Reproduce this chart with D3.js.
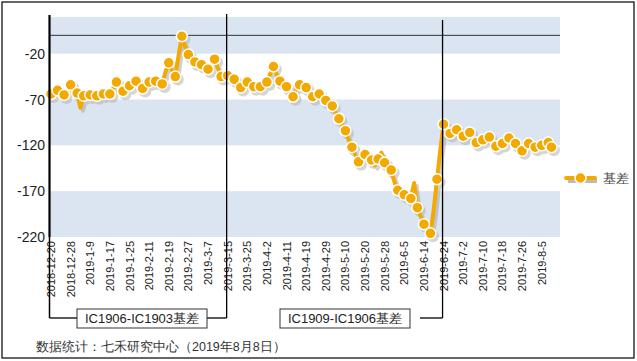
<!DOCTYPE html>
<html>
<head>
<meta charset="utf-8">
<script src="https://cdn.jsdelivr.net/npm/d3@7"></script>
<style>
  body { margin: 0; background: #fff; }
  svg { display: block; font-family: "Liberation Sans", Arial, sans-serif; }
</style>
</head>
<body>
<div id="chart"></div>
<script>
// 1. DATA
// trading days per month (categories)
const tradingDays = [
  ["2018-12", [20, 21, 24, 25, 26, 27, 28]],
  ["2019-1", [2, 3, 4, 7, 8, 9, 10, 11, 14, 15, 16, 17, 18, 21, 22, 23, 24, 25, 28, 29, 30, 31]],
  ["2019-2", [1, 11, 12, 13, 14, 15, 18, 19, 20, 21, 22, 25, 26, 27, 28]],
  ["2019-3", [1, 4, 5, 6, 7, 8, 11, 12, 13, 14, 15, 18, 19, 20, 21, 22, 25, 26, 27, 28, 29]],
  ["2019-4", [1, 2, 3, 4, 8, 9, 10, 11, 12, 15, 16, 17, 18, 19, 22, 23, 24, 25, 26, 29, 30]],
  ["2019-5", [6, 7, 8, 9, 10, 13, 14, 15, 16, 17, 20, 21, 22, 23, 24, 27, 28, 29, 30, 31]],
  ["2019-6", [3, 4, 5, 6, 10, 11, 12, 13, 14, 17, 18, 19, 20, 21, 24, 25, 26, 27, 28]],
  ["2019-7", [1, 2, 3, 4, 5, 8, 9, 10, 11, 12, 15, 16, 17, 18, 19, 22, 23, 24, 25, 26, 29, 30, 31]],
  ["2019-8", [1, 2, 5, 6, 7, 8]]
]
const dates = tradingDays.flatMap(([m, days]) => days.map(d => `${m}-${d}`))

const basis = [
  -64, -62, -60, -62, -65, -60, -54, -62, -63, -79,
  -66, -65, -65, -64, -66, -64, -64, -63, -64, -58,
  -51, -57, -61, -57, -55, -52, -50, -55, -58, -54,
  -51, -51, -50, -51, -53, -40, -30, -38, -45, -22,
  -1, -12, -21, -26, -29, -31, -32, -35, -37, -32,
  -26, -36, -45, -42, -44, -48, -48, -53, -57, -54,
  -51, -54, -56, -58, -56, -50, -51, -42, -34, -43,
  -50, -54, -56, -62, -67, -58, -54, -56, -57, -62,
  -67, -64, -64, -68, -71, -74, -77, -84, -91, -97,
  -104, -114, -122, -130, -138, -133, -130, -128, -136, -142,
  -135, -128, -139, -143, -147, -160, -169, -172, -174, -176,
  -178, -161, -188, -197, -206, -212, -216, -190, -157, -125,
  -97, -104, -107, -105, -103, -108, -110, -108, -106, -112,
  -117, -115, -114, -112, -111, -117, -121, -119, -118, -114,
  -112, -116, -118, -122, -126, -121, -118, -120, -122, -120,
  -120, -118, -117, -122
]

const tickLabels = [
  "2018-12-20", "2018-12-28", "2019-1-9", "2019-1-17", "2019-1-25", "2019-2-11",
  "2019-2-19", "2019-2-27", "2019-3-7", "2019-3-15", "2019-3-25", "2019-4-2",
  "2019-4-11", "2019-4-19", "2019-4-29", "2019-5-10", "2019-5-20", "2019-5-28",
  "2019-6-5", "2019-6-14", "2019-6-24", "2019-7-2", "2019-7-10", "2019-7-18",
  "2019-7-26", "2019-8-5"
]
const yTicks = [-20, -70, -120, -170, -220]
const bandRanges = [[20, -20], [-70, -120], [-170, -220]]

// contract roll periods: [start date, end date, label]
const periods = [
  ["2018-12-20", "2019-3-15", "IC1906-IC1903基差"],
  ["2019-3-15", "2019-6-24", "IC1909-IC1906基差"]
]
const seriesName = "基差"
const source = "数据统计：七禾研究中心（2019年8月8日）"

const dataset = dates.map((d, i) => ({ date: d, i, value: basis[i] }))

// 2. DIMENSIONS
const dimensions = {
  width: 637,
  height: 361,
  plotLeft: 50,
  plotRight: 560,
  plotTop: 17,
  plotBottom: 237,
}

const orange = "#F2A900"

// 3. DRAW CANVAS
const wrapper = d3.select("#chart")
  .append("svg")
  .attr("width", dimensions.width)
  .attr("height", dimensions.height)

wrapper.append("rect")
  .attr("x", 2).attr("y", 2)
  .attr("width", 632).attr("height", 356)
  .attr("fill", "#fff")
  .attr("stroke", "#000")
  .attr("stroke-width", 1.2)

// 4. CREATE SCALES
const xScale = d3.scaleLinear()
  .domain([0, dates.length - 1])
  .range([51, 551.5])
const xOf = d => xScale(dates.indexOf(d))

const yScale = d3.scaleLinear()
  .domain([-220, 20])
  .range([dimensions.plotBottom, dimensions.plotTop])

// bands
wrapper.append("g").selectAll("rect")
  .data(bandRanges)
  .join("rect")
  .attr("x", dimensions.plotLeft)
  .attr("width", dimensions.plotRight - dimensions.plotLeft)
  .attr("y", d => yScale(d[0]))
  .attr("height", d => yScale(d[1]) - yScale(d[0]))
  .attr("fill", "#DAE5F1")

// zero line
wrapper.append("line")
  .attr("x1", dimensions.plotLeft).attr("x2", dimensions.plotRight)
  .attr("y1", yScale(0)).attr("y2", yScale(0))
  .attr("stroke", "#333").attr("stroke-width", 1)

// 5. DRAW DATA
const lineGen = d3.line()
  .x(d => xScale(d.i))
  .y(d => yScale(d.value))

const markerData = dataset.filter(d => d.i % 2 === 0 || d.i === dataset.length - 1)

const shadow = wrapper.append("g")
  .attr("transform", "translate(2.5,3)")
  .attr("opacity", 0.55)
shadow.append("path")
  .datum(dataset)
  .attr("d", lineGen)
  .attr("fill", "none")
  .attr("stroke", "#a9a9a9")
  .attr("stroke-width", 4)
  .attr("stroke-linejoin", "round")
shadow.selectAll("circle")
  .data(markerData)
  .join("circle")
  .attr("cx", d => xScale(d.i))
  .attr("cy", d => yScale(d.value))
  .attr("r", 6)
  .attr("fill", "#b5b5b5")

wrapper.append("path")
  .datum(dataset)
  .attr("d", lineGen)
  .attr("fill", "none")
  .attr("stroke", orange)
  .attr("stroke-width", 4)
  .attr("stroke-linejoin", "round")

wrapper.append("g").selectAll("circle")
  .data(markerData)
  .join("circle")
  .attr("cx", d => xScale(d.i))
  .attr("cy", d => yScale(d.value))
  .attr("r", 5.5)
  .attr("fill", orange)
  .attr("stroke", "#fff")
  .attr("stroke-width", 1.5)

// 6. DRAW PERIPHERALS
// y axis labels
wrapper.append("g").selectAll("text")
  .data(yTicks)
  .join("text")
  .attr("x", 45)
  .attr("y", d => yScale(d))
  .attr("dy", "0.36em")
  .attr("text-anchor", "end")
  .attr("font-size", 14)
  .attr("fill", "#222")
  .text(d => d)

// x labels
wrapper.append("g").selectAll("text")
  .data(tickLabels)
  .join("text")
  .attr("transform", d => `translate(${xOf(d) + 4},${241}) rotate(-90)`)
  .attr("text-anchor", "end")
  .attr("font-size", 11)
  .attr("fill", "#222")
  .text(d => d)

// period brackets
const bracketY = 318
const bracket = wrapper.append("g")
periods.forEach(([start, end, label], k) => {
  const x0 = k === 0 ? dimensions.plotLeft - 0.5 : xOf(start)
  const x1 = xOf(end) - 1
  const top = k === 0 ? 15 : 20
  const boxW = 130
  const boxX = k === 0 ? 77 : 280
  if (k > 0) {
    bracket.append("line")
      .attr("x1", x1).attr("x2", x1).attr("y1", top).attr("y2", bracketY)
      .attr("stroke", "#000").attr("stroke-width", 1.3)
  }
  bracket.append("line")
    .attr("x1", x1).attr("x2", boxX + boxW + (k === 0 ? 0 : 10))
    .attr("y1", bracketY).attr("y2", bracketY)
    .attr("stroke", "#000").attr("stroke-width", 1.3)
  if (k === 0) {
    bracket.append("line")
      .attr("x1", x0).attr("x2", x0).attr("y1", dimensions.plotBottom).attr("y2", bracketY)
      .attr("stroke", "#000").attr("stroke-width", 1.5)
    bracket.append("line")
      .attr("x1", x0).attr("x2", boxX)
      .attr("y1", bracketY).attr("y2", bracketY)
      .attr("stroke", "#000").attr("stroke-width", 1.3)
    bracket.append("line")
      .attr("x1", x1).attr("x2", x1).attr("y1", top - 1).attr("y2", bracketY)
      .attr("stroke", "#000").attr("stroke-width", 1.3)
  }
  bracket.append("rect")
    .attr("x", boxX).attr("y", 309)
    .attr("width", boxW).attr("height", 19)
    .attr("fill", "#fff").attr("stroke", "#333").attr("stroke-width", 1)
  bracket.append("text")
    .attr("x", boxX + boxW / 2).attr("y", 323)
    .attr("text-anchor", "middle")
    .attr("font-size", 13)
    .attr("fill", "#222")
    .text(label)
})

// y axis line
wrapper.append("line")
  .attr("x1", dimensions.plotLeft - 0.5).attr("x2", dimensions.plotLeft - 0.5)
  .attr("y1", 15).attr("y2", dimensions.plotBottom)
  .attr("stroke", "#000").attr("stroke-width", 2.2)

// legend
const legend = wrapper.append("g").attr("transform", "translate(566,178)")
legend.append("line")
  .attr("x1", 2).attr("x2", 31).attr("y1", 3).attr("y2", 3)
  .attr("stroke", "#bbb").attr("stroke-width", 4)
legend.append("line")
  .attr("x1", 0).attr("x2", 29).attr("y1", 0).attr("y2", 0)
  .attr("stroke", orange).attr("stroke-width", 4).attr("stroke-linecap", "round")
legend.append("circle")
  .attr("cx", 14.5).attr("cy", 0).attr("r", 5.5)
  .attr("fill", orange).attr("stroke", "#fff").attr("stroke-width", 1.5)
legend.append("text")
  .attr("x", 37).attr("y", 5)
  .attr("font-size", 13)
  .attr("fill", "#444")
  .text(seriesName)

// source
wrapper.append("text")
  .attr("x", 36).attr("y", 351)
  .attr("font-size", 12.5)
  .attr("fill", "#333")
  .text(source)
</script>
</body>
</html>
